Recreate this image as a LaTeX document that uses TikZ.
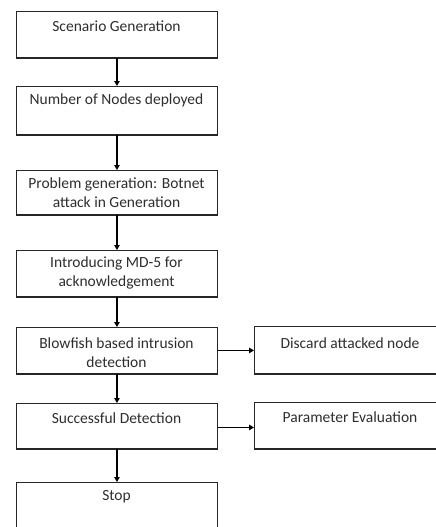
\documentclass[tikz,border=0pt]{standalone}
\usepackage{fontspec}
\setmainfont{Carlito}
\usetikzlibrary{arrows.meta}
\definecolor{txtgray}{HTML}{2E2E2E}
\tikzset{
  box/.style={draw=black!85, line width=0.9pt, fill=white, minimum width=201pt, anchor=north west, inner sep=0pt},
  rbox/.style={box, minimum width=192pt},
  txt/.style={font=\fontsize{15.5pt}{19pt}\selectfont, text=txtgray, align=center, inner sep=0pt},
  conn/.style={line width=1.5pt, -{Triangle[length=5pt,width=5.5pt]}}
}
\begin{document}
\begin{tikzpicture}[x=1pt,y=-1pt]
\useasboundingbox (0,0) rectangle (436,527);
\clip (0,0) rectangle (436,527);
\fill[white] (0,0) rectangle (436,527);
% boxes
\node[box, minimum height=46pt] (b1) at (16,11) {};
\node[box, minimum height=48pt] (b2) at (16,86) {};
\node[box, minimum height=44pt] (b3) at (16,170) {};
\node[box, minimum height=46pt] (b4) at (16,250) {};
\node[box, minimum height=46pt] (b5) at (16,327) {};
\node[box, minimum height=45pt] (b6) at (16,403) {};
\node[box, minimum height=60pt] (b7) at (16,482) {};
\node[rbox, minimum height=47pt] (d) at (254,326) {};
\node[rbox, minimum height=46pt] (p) at (254,402) {};
% thicker bottom edges
\foreach \n in {b1,b2,b3,b4,b5,b6,d,p}
  \draw[line width=1.8pt, black!85] (\n.south west) -- (\n.south east);
% texts
\node[txt] (t1) at (116.5,26) {Scenario Generation};
\node[txt] (t2) at (116.5,100) {Number of Nodes deployed};
\node[txt] (t3) at (116.5,192.5) {Problem generation: Botnet\\attack in Generation};
\node[txt] (t4) at (116.5,273) {Introducing MD-5 for\\acknowledgement};
\node[txt] (t5) at (116.5,353) {Blowfish based intrusion\\detection};
\node[txt] (t6) at (116.5,418) {Successful Detection};
\node[txt] (t7) at (116.5,497) {Stop};
\node[txt] (td) at (350,343) {Discard attacked node};
\node[txt] (tp) at (350,417) {Parameter Evaluation};
% connectors
\draw[conn] (b1.south) -- (b2.north);
\draw[conn] (b2.south) -- (b3.north);
\draw[conn] (b3.south) -- (b4.north);
\draw[conn] (b4.south) -- (b5.north);
\draw[conn] (b5.south) -- (b6.north);
\draw[conn] (b6.south) -- (b7.north);
\draw[conn, line width=1.1pt] (b5.east) -- (b5.east -| d.west);
\draw[conn, line width=1.8pt] ([yshift=-1.5pt]b6.east) -- ([yshift=-1.5pt]b6.east -| p.west);
\end{tikzpicture}
\end{document}
